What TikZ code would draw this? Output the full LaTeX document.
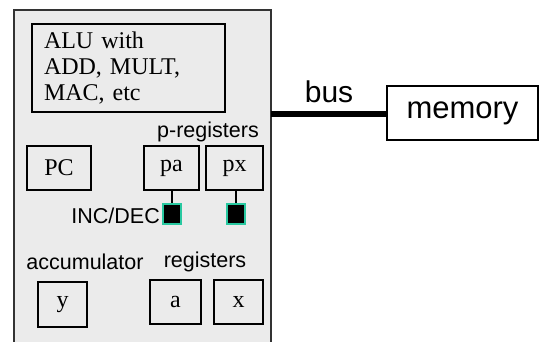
\documentclass[tikz,border=0pt]{standalone}
\usepackage{fontspec}
\setmainfont{Liberation Serif}
\setsansfont{Liberation Sans}

\definecolor{cpugray}{RGB}{235,235,235}
\definecolor{incteal}{RGB}{40,200,160}

\tikzset{
    regbox/.style = {draw, line width = 1.3pt, fill = cpugray, inner sep = 0pt,
                     font = \fontsize{24}{26}\selectfont},
    incbox/.style = {draw = incteal, line width = 1.2pt, fill = black,
                     minimum width = 18pt, minimum height = 20pt, inner sep = 0pt},
    tag/.style    = {font = \sffamily\fontsize{21.5}{24}\selectfont, inner sep = 0pt}
}

\begin{document}
\begin{tikzpicture}[x = 1pt, y = -1pt]
    \useasboundingbox (0, 0) rectangle (548, 342);

    % processor
    \fill [cpugray] (14, 10) rectangle (271, 342);
    \draw [line width = 1.5pt, color = black!80] (14, 342) |- (271, 10) -- (271, 342);

    \node [regbox, minimum width = 193pt, minimum height = 88pt, text width = 169pt,
           align = left, font = \fontsize{24}{26}\selectfont] (alu) at (128.5, 68)
          {ALU with\\ADD, MULT,\\MAC, etc};

    \node [regbox, minimum width = 64pt, minimum height = 44pt] (pc) at (59, 168) {PC};
    \node [regbox, minimum width = 55pt, minimum height = 44pt] (pa) at (171.5, 168) {pa};
    \node [regbox, minimum width = 57pt, minimum height = 44pt] (px) at (234.5, 168) {px};

    \node [incbox] (inca) at (172, 214) {};
    \node [incbox] (incx) at (236, 214) {};
    \draw [line width = 1.3pt] (pa.south -| inca) -- (inca.north);
    \draw [line width = 1.3pt] (px.south -| incx) -- (incx.north);

    \node [regbox, minimum width = 49pt, minimum height = 45pt] (y) at (62.5, 304.5) {y};
    \node [regbox, minimum width = 51pt, minimum height = 44pt] (a) at (175.5, 302) {a};
    \node [regbox, minimum width = 49pt, minimum height = 44pt] (x) at (238.5, 302) {x};

    \node [tag] (preg) at (208, 132) {p-registers};
    \node [tag, anchor = east] (incdec) at (160, 216) {INC/DEC};
    \node [tag] (acc) at (85, 262) {accumulator};
    \node [tag] (regs) at (205, 262) {registers};

    % memory and bus
    \node [draw, line width = 1.3pt, fill = white, minimum width = 151pt, minimum height = 54pt,
           font = \sffamily\fontsize{31}{34}\selectfont] (mem) at (462.5, 113) {memory};
    \coordinate (port) at (271, 114);
    \draw [line width = 6pt] (port) -- (mem.west |- port);
    \node [font = \sffamily\fontsize{30}{32}\selectfont, inner sep = 0pt] (bus) at (329, 92) {bus};
\end{tikzpicture}
\end{document}
